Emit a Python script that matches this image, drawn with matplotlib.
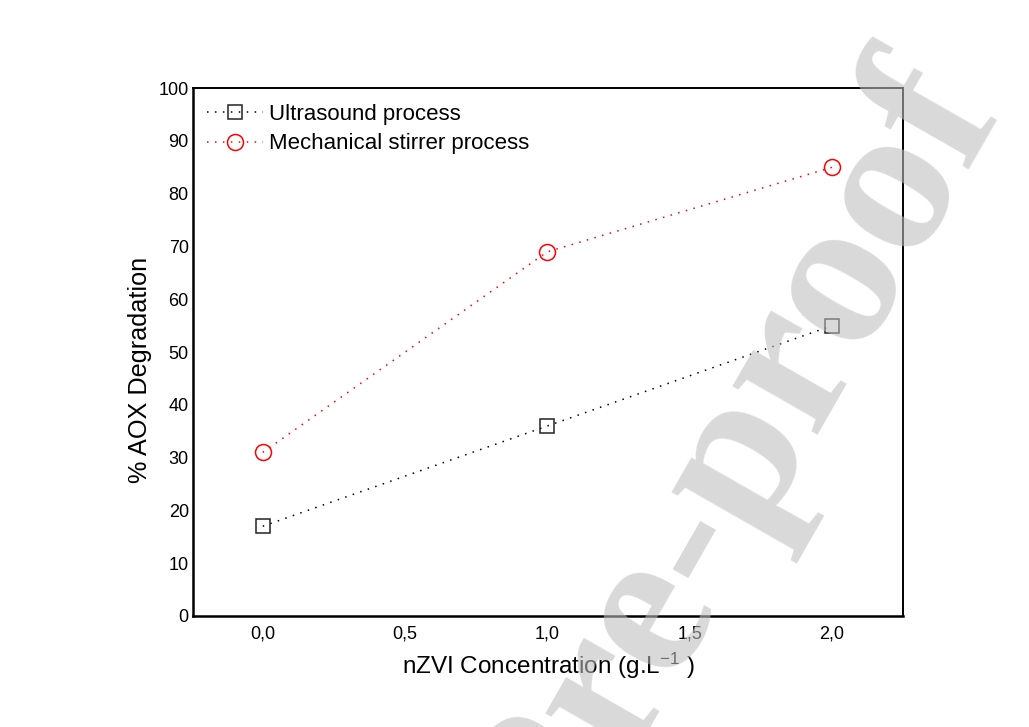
import numpy as np
import matplotlib
matplotlib.use("Agg")
import matplotlib.pyplot as plt
from matplotlib.textpath import TextPath
from matplotlib.font_manager import FontProperties

# data
conc = [0.0, 1.0, 2.0]
ultrasound = [17, 36, 55]
mech_stirrer = [31, 69, 85]

xtick_vals = [0.0, 0.5, 1.0, 1.5, 2.0]
xtick_labels = ["0,0", "0,5", "1,0", "1,5", "2,0"]
ytick_vals = [0, 10, 20, 30, 40, 50, 60, 70, 80, 90, 100]

plt.rcParams["font.family"] = ["Liberation Sans", "DejaVu Sans"]
plt.rcParams["mathtext.fontset"] = "custom"
plt.rcParams["mathtext.rm"] = "Liberation Sans"
plt.rcParams["mathtext.default"] = "regular"

W, H, DPI = 1029, 727, 100
fig = plt.figure(figsize=(W / DPI, H / DPI), dpi=DPI)
ax = fig.add_axes([0.1876, 0.1527, 0.690, 0.726])

dots = (0, (1, 4.2))
ax.plot(conc, ultrasound, linestyle=dots, lw=1.1, color="black",
        marker="s", ms=10, mfc="none", mec="#222222", mew=1.1,
        label="Ultrasound process")
ax.plot(conc, mech_stirrer, linestyle=dots, lw=1.1, color="red",
        marker="o", ms=11.5, mfc="none", mec="red", mew=1.1,
        label="Mechanical stirrer process")

ax.set_xlim(-0.245, 2.25)
ax.set_ylim(0, 100)
ax.set_xticks(xtick_vals)
ax.set_xticklabels(xtick_labels)
ax.set_yticks(ytick_vals)
ax.tick_params(axis="both", length=0, labelsize=13)
ax.tick_params(axis="x", pad=6.5)
ax.tick_params(axis="y", pad=3)

for side in ["left", "bottom"]:
    ax.spines[side].set_linewidth(1.8)
for side in ["top", "right"]:
    ax.spines[side].set_linewidth(1.4)

ax.set_xlabel(r"nZVI Concentration (g.L$^{-1}$ )", fontsize=17.5, labelpad=6)
ax.set_ylabel("% AOX Degradation", fontsize=18.2)
ax.yaxis.set_label_coords(-0.0577, 0.466)

ax.legend(loc="upper left", bbox_to_anchor=(0.0197, 0.970), frameon=False,
          fontsize=16, handlelength=2.5, handletextpad=0.3,
          labelspacing=0.38, borderpad=0, borderaxespad=0)

# journal watermark: fit it so the "e" of "Pre" and the last "o" of "proof"
# sit where they are in the page image (pixels from top-left)
wm_text = "Journal Pre-proof"
wm_prop = FontProperties(family="Liberation Serif", weight="bold")


def ink(s):
    return TextPath((0, 0), s, size=1, prop=wm_prop).get_extents()


e_cx = ink("Journal Pre").x1 - ink("e").width / 2
o_cx = ink("Journal Pre-proo").x1 - ink("o").width / 2
o_cy = (ink("o").y0 + ink("o").y1) / 2
e_pix = np.array([655, H - 620])
o_pix = np.array([898, H - 195])
vec = o_pix - e_pix
em_px = np.hypot(*vec) / (o_cx - e_cx)
ang = np.arctan2(vec[1], vec[0])
rot = np.array([[np.cos(ang), -np.sin(ang)], [np.sin(ang), np.cos(ang)]])
anchor = o_pix - rot @ (em_px * np.array([o_cx, o_cy]))
fig.text(anchor[0] / W, anchor[1] / H, wm_text, fontproperties=wm_prop,
         fontsize=em_px * 72 / DPI, color="#bebebe", alpha=0.58,
         rotation=np.degrees(ang), rotation_mode="anchor",
         ha="left", va="baseline", zorder=10)

fig.savefig("out.png", dpi=DPI)
